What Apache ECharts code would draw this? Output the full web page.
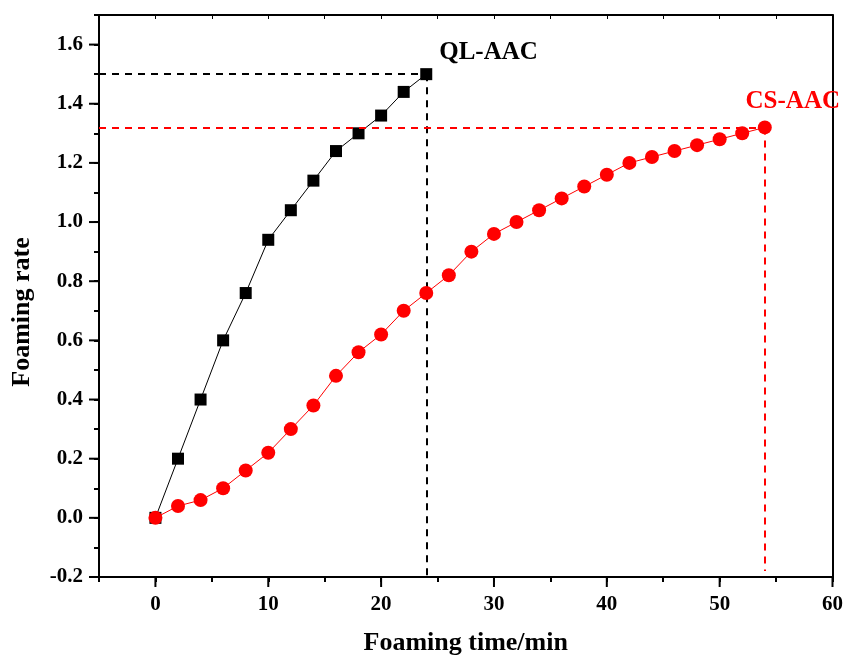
<!DOCTYPE html>
<html>
<head>
<meta charset="utf-8">
<script src="https://cdn.jsdelivr.net/npm/echarts@6/dist/echarts.min.js"></script>
<style>html,body{margin:0;padding:0;background:#fff;}#c{width:846px;height:661px;}</style>
</head>
<body>
<div id="c"></div>
<script>
const qlTime = [0, 2, 4, 6, 8, 10, 12, 14, 16, 18, 20, 22, 24];
const qlRate = [0, 0.20, 0.40, 0.60, 0.76, 0.94, 1.04, 1.14, 1.24, 1.30, 1.36, 1.44, 1.50];
const csTime = [0, 2, 4, 6, 8, 10, 12, 14, 16, 18, 20, 22, 24, 26, 28, 30, 32, 34, 36, 38, 40, 42, 44, 46, 48, 50, 52, 54];
const csRate = [0, 0.04, 0.06, 0.10, 0.16, 0.22, 0.30, 0.38, 0.48, 0.56, 0.62, 0.70, 0.76, 0.82, 0.90, 0.96, 1.00, 1.04, 1.08, 1.12, 1.16, 1.20, 1.22, 1.24, 1.26, 1.28, 1.30, 1.32];
const seriesNames = ['QL-AAC', 'CS-AAC'];
const xTickLabels = [0, 10, 20, 30, 40, 50, 60];
const yTickLabels = [-0.2, 0.0, 0.2, 0.4, 0.6, 0.8, 1.0, 1.2, 1.4, 1.6];
const xMin = -5, xMax = 60, yMin = -0.2, yMax = 1.7;

const font = '"Liberation Serif", "Times New Roman", serif';
const chart = echarts.init(document.getElementById('c'), null, {renderer: 'canvas'});

function pairs(xs, ys) { return xs.map((x, i) => [x, ys[i]]); }
const qlData = pairs(qlTime, qlRate);
const csData = pairs(csTime, csRate);
const qlLast = qlData[qlData.length - 1];
const csLast = csData[csData.length - 1];

const axisLineStyle = {color: '#000', width: 2};
const labelStyle = {fontFamily: font, fontWeight: 'bold', fontSize: 21, color: '#000'};
const nameStyle = {fontFamily: font, fontWeight: 'bold', fontSize: 26, color: '#000'};
const tickStyle = {color: '#000', width: 2};
const MAJOR = 10;

function xLabel(v) {
  return xTickLabels.some(t => Math.abs(t - v) < 1e-6) ? String(v) : '';
}
function yLabel(v) {
  const hit = yTickLabels.find(t => Math.abs(t - v) < 1e-6);
  return hit === undefined ? '' : hit.toFixed(1);
}

chart.setOption({
  animation: false,
  backgroundColor: '#fff',
  grid: {left: 99, right: 11, top: 15, bottom: 82, containLabel: false},
  xAxis: [{
    type: 'value', min: xMin, max: xMax, interval: 5, position: 'bottom',
    name: 'Foaming time/min', nameLocation: 'middle', nameGap: 53,
    nameTextStyle: nameStyle,
    axisLine: {show: true, onZero: false, lineStyle: axisLineStyle},
    axisTick: {show: true, inside: false, length: 5, lineStyle: tickStyle},
    splitLine: {show: false},
    axisLabel: Object.assign({margin: 17, formatter: xLabel}, labelStyle)
  }, {
    type: 'value', min: xMin, max: xMax, interval: 5, position: 'top',
    axisLine: {show: true, onZero: false, lineStyle: axisLineStyle},
    axisTick: {show: true, inside: true, length: 4, lineStyle: {color: '#000', width: 1}},
    axisLabel: {show: false}, splitLine: {show: false}
  }],
  yAxis: [{
    type: 'value', min: yMin, max: yMax, interval: 0.1, position: 'left',
    name: 'Foaming rate', nameLocation: 'middle', nameGap: 64, nameRotate: 90,
    nameTextStyle: Object.assign({padding: [0, 0, 0, -32]}, nameStyle),
    axisLine: {show: true, onZero: false, lineStyle: axisLineStyle},
    axisTick: {show: true, inside: false, length: 5, lineStyle: tickStyle},
    splitLine: {show: false},
    axisLabel: Object.assign({margin: 16, formatter: yLabel}, labelStyle)
  }, {
    type: 'value', min: yMin, max: yMax, interval: 0.1, position: 'right',
    axisLine: {show: true, onZero: false, lineStyle: axisLineStyle},
    axisTick: {show: false}, axisLabel: {show: false}, splitLine: {show: false}
  }],
  series: [{
    name: seriesNames[0], type: 'line', data: qlData, z: 4,
    symbol: 'rect', symbolSize: 12, itemStyle: {color: '#000'},
    lineStyle: {color: '#000', width: 1},
    label: {show: true, position: 'right', offset: [2, -22], fontFamily: font, fontWeight: 'bold', fontSize: 25, color: '#000',
      formatter: p => (p.dataIndex === qlData.length - 1 ? seriesNames[0] : '')},
    markLine: {silent: true, symbol: 'none', label: {show: false},
      lineStyle: {color: '#000', type: [7, 6], width: 2},
      data: [
        [{coord: [xMin, qlLast[1]]}, {coord: [qlLast[0], qlLast[1]]}],
        [{coord: [qlLast[0], qlLast[1]]}, {coord: [qlLast[0], yMin]}]
      ]}
  }, {
    name: seriesNames[1], type: 'line', data: csData, z: 5,
    symbol: 'circle', symbolSize: 14, itemStyle: {color: '#ff0000'},
    lineStyle: {color: '#ff0000', width: 1},
    label: {show: true, position: 'top', offset: [28, -1], fontFamily: font, fontWeight: 'bold', fontSize: 25, color: '#ff0000',
      formatter: p => (p.dataIndex === csData.length - 1 ? seriesNames[1] : '')},
    markLine: {silent: true, symbol: 'none', label: {show: false},
      lineStyle: {color: '#ff0000', type: [7, 6], width: 2},
      data: [
        [{coord: [xMin, csLast[1]]}, {coord: [csLast[0], csLast[1]]}],
        [{coord: [csLast[0], csLast[1]]}, {coord: [csLast[0], yMin + 0.02]}]
      ]}
  }]
});

// Major ticks, positioned through the chart's own scales
const tickEls = [];
xTickLabels.forEach(v => {
  const p = chart.convertToPixel({gridIndex: 0}, [v, yMin]);
  tickEls.push({type: 'line', z: 100, silent: true,
    shape: {x1: p[0], y1: p[1], x2: p[0], y2: p[1] + MAJOR},
    style: {stroke: '#000', lineWidth: 2}});
});
yTickLabels.forEach(v => {
  const p = chart.convertToPixel({gridIndex: 0}, [xMin, v]);
  tickEls.push({type: 'line', z: 100, silent: true,
    shape: {x1: p[0] - MAJOR, y1: p[1], x2: p[0], y2: p[1]},
    style: {stroke: '#000', lineWidth: 2}});
});
chart.setOption({graphic: {elements: tickEls}});
</script>
</body>
</html>
